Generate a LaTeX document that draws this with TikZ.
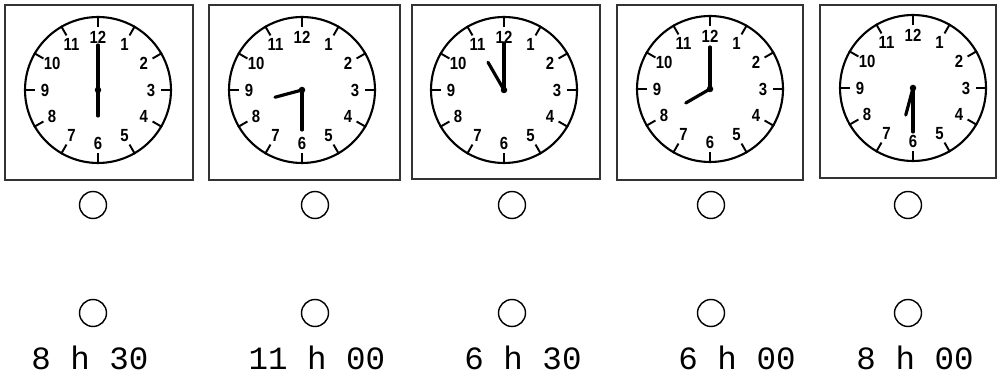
\documentclass[tikz,border=0pt]{standalone}
\usepackage{fontspec}
\setmainfont{Liberation Mono}
\newfontfamily\numfont{Liberation Sans}
\newcommand\drawclock[7]{%
  \node[face] (#1) at (#2,#3) {};
  \foreach \k in {1,...,12}{
    \draw[tick] ({#2+74*sin(30*\k)},{#3-74*cos(30*\k)}) -- ({#2+63*sin(30*\k)},{#3-63*cos(30*\k)});
    \node[num] at ({#2+53*sin(30*\k)},{#3-53*cos(30*\k)}) {\k};
  }
  \coordinate (#1h) at ({#2+#5*sin(#4)},{#3-#5*cos(#4)});
  \coordinate (#1m) at ({#2+#7*sin(#6)},{#3-#7*cos(#6)});
  \draw[hand] (#1.center) -- (#1h);
  \draw[hand] (#1.center) -- (#1m);
  \node[hub] at (#1.center) {};
}
\begin{document}
\begin{tikzpicture}[x=0.02cm,y=-0.02cm,
  frame/.style={draw=black!80, line width=0.9pt},
  face/.style={circle, draw, line width=1.2pt, minimum size=2.92cm, inner sep=0pt},
  tick/.style={line width=1.1pt},
  num/.style={font=\numfont\bfseries\fontsize{10}{11}\selectfont, inner sep=0pt, xscale=0.85},
  hand/.style={line width=1.8pt, line cap=round},
  hub/.style={circle, fill, minimum size=0.13cm, inner sep=0pt},
  bubble/.style={circle, draw, line width=0.8pt, minimum size=0.54cm, inner sep=0pt},
  lab/.style={font=\fontsize{18.5}{20}\selectfont, anchor=base, inner sep=0pt}]
\useasboundingbox (0,0) rectangle (1000,377);
\fill[white] (0,0) rectangle (1000,377);
% frames
\draw[frame] (5,5) rectangle (193,180);
\draw[frame] (209,5) rectangle (400,180);
\draw[frame] (412,5) rectangle (600,179);
\draw[frame] (617,5) rectangle (803,180);
\draw[frame] (820,5) rectangle (996,178);
% clocks
\drawclock{c1}{98}{90}{180}{26}{0}{45}
\drawclock{c2}{302}{90}{255}{28}{180}{40}
\drawclock{c3}{504}{90}{330}{32}{0}{47}
\drawclock{c4}{710}{89}{240}{28}{0}{42}
\drawclock{c5}{913}{88}{195}{28}{180}{44}
% bubbles
\foreach \i/\x in {1/93,2/315,3/512,4/711,5/908}{
  \node[bubble] (t\i) at (\x,205) {};
  \node[bubble] (b\i) at (\x,313) {};
}
% labels
\node[lab] (l1) at (90,370) {8 h 30};
\node[lab] (l2) at (317,370) {11 h 00};
\node[lab] (l3) at (523,370) {6 h 30};
\node[lab] (l4) at (737,370) {6 h 00};
\node[lab] (l5) at (915,370) {8 h 00};
\end{tikzpicture}
\end{document}
